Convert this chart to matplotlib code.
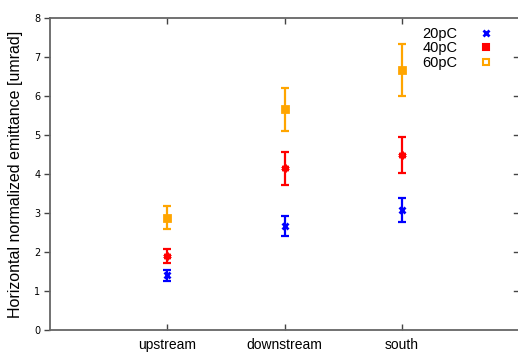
import matplotlib.pyplot as plt
from matplotlib.lines import Line2D

# data
locations = ['upstream', 'downstream', 'south']
xpos = [1, 2, 3]
series = ['20pC', '40pC', '60pC']

emit_20 = [1.41, 2.67, 3.08]
low_20 = [1.26, 2.41, 2.77]
high_20 = [1.54, 2.92, 3.38]

emit_40 = [1.90, 4.15, 4.49]
low_40 = [1.72, 3.72, 4.03]
high_40 = [2.08, 4.56, 4.95]

emit_60 = [2.87, 5.67, 6.67]
low_60 = [2.59, 5.10, 6.00]
high_60 = [3.18, 6.20, 7.33]

colors = ['#0000ff', '#ff0000', '#ffa500']
markers = ['x', (6, 2, 0), 's']
msizes = [5, 5.5, 5]

fig = plt.figure(figsize=(5.18, 3.52), dpi=100)
ax = fig.add_axes([50 / 518, 22 / 352, 469.5 / 518, 312 / 352])

data = [(emit_20, low_20, high_20), (emit_40, low_40, high_40), (emit_60, low_60, high_60)]
for (vals, lo, hi), c, m, s in zip(data, colors, markers, msizes):
    yerr = [[v - l for v, l in zip(vals, lo)], [h - v for v, h in zip(vals, hi)]]
    ax.errorbar(xpos, vals, yerr=yerr, fmt='none', ecolor=c, elinewidth=1.6,
                capsize=3, capthick=1.6)
    ax.plot(xpos, vals, linestyle='none', marker=m, color=c, ms=s, mew=2)

ax.set_xlim(0, 4)
ax.set_ylim(0, 8)
ax.set_xticks(xpos)
ax.set_xticklabels(locations, fontsize=10, family='Liberation Sans')
ax.set_yticks(range(0, 9))
ax.tick_params(axis='y', labelsize=7, direction='out', length=4, left=True,
               right=False, width=1, color='#444444', pad=3)
ax.tick_params(axis='x', direction='in', length=4, top=True, width=1,
               color='#444444', pad=6)
for side in ['left', 'bottom', 'top', 'right']:
    ax.spines[side].set_color('#666666')
    ax.spines[side].set_linewidth(1.3)

# mirrored ticks on the right side, just inside the cropped edge
for yv in range(1, 8):
    ax.plot([3.955, 4.0], [yv, yv], color='#444444', lw=1, clip_on=False)

ax.set_ylabel('Horizontal normalized emittance [umrad]', fontsize=11.5,
              family='Liberation Sans', labelpad=8)

handles = [
    Line2D([], [], linestyle='none', marker='x', color=colors[0], ms=5, mew=2),
    Line2D([], [], linestyle='none', marker='s', color=colors[1], ms=5, mew=1.5),
    Line2D([], [], linestyle='none', marker='s', color=colors[2], mfc='none', ms=5, mew=1.5),
]
leg = ax.legend(handles, series, loc='upper right', bbox_to_anchor=(0.995, 1.014),
                frameon=False, markerfirst=False, handlelength=2.5,
                handletextpad=0.7, labelspacing=0.05,
                prop={'family': 'Liberation Sans', 'size': 10.5})

fig.savefig('out.png', dpi=100)
